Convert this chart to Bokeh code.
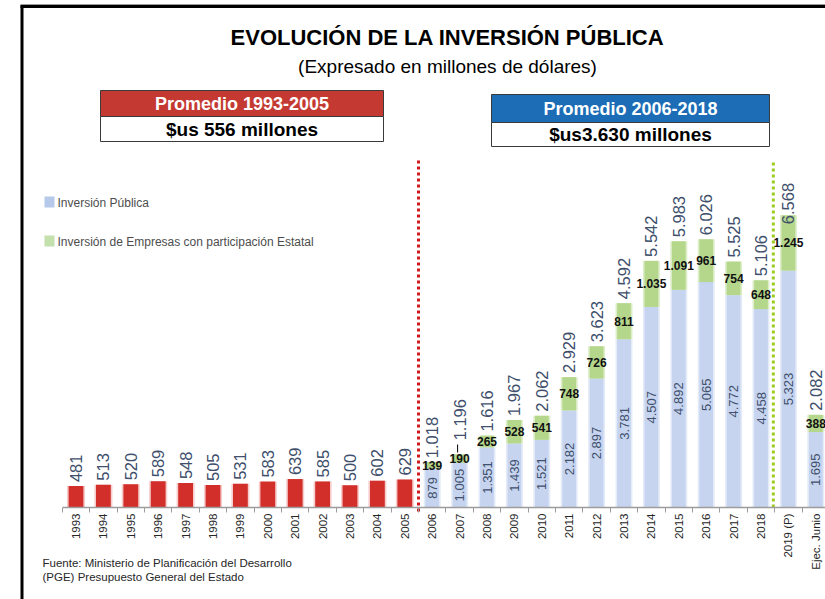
import math
from bokeh.plotting import figure
from bokeh.models import LinearAxis, FixedTicker, Range1d
from bokeh.core.properties import value
from bokeh.embed import file_html
from bokeh.resources import INLINE

# ---------------- data ----------------
years_early = ["1993", "1994", "1995", "1996", "1997", "1998", "1999",
               "2000", "2001", "2002", "2003", "2004", "2005"]
inv_early = [481, 513, 520, 589, 548, 505, 531, 583, 639, 585, 500, 602, 629]

years_late = ["2006", "2007", "2008", "2009", "2010", "2011", "2012", "2013",
              "2014", "2015", "2016", "2017", "2018", "2019 (P)", "Ejec. Junio"]
inv_publica = [879, 1005, 1351, 1439, 1521, 2182, 2897, 3781, 4507, 4892,
               5065, 4772, 4458, 5323, 1695]
inv_empresas = [139, 190, 265, 528, 541, 748, 726, 811, 1035, 1091, 961,
                754, 648, 1245, 388]
totales = [1018, 1196, 1616, 1967, 2062, 2929, 3623, 4592, 5542, 5983, 6026,
           5525, 5106, 6568, 2082]

categories = years_early + years_late

# ---------------- geometry helpers ----------------
W, H = 825, 599
PXX = 27.4          # px per category
PXY = 0.0445        # px per million
X0 = -75.5 / PXX


def X(px):
    return X0 + px / PXX


def Y(py):
    return (507 - py) / PXY


def fmt(v):
    return f"{v:,}".replace(",", ".")


SLATE = "#404f6c"
FONT = "Liberation Sans"

p = figure(width=W, height=H, output_backend="svg", toolbar_location=None,
           x_range=Range1d(X(0), X(W)), y_range=Range1d(Y(H), Y(0)),
           x_axis_location=None, y_axis_location=None, min_border=0,
           outline_line_color=None, background_fill_color="white",
           border_fill_color="white")
for g in p.grid:
    g.visible = False

idx_early = list(range(len(years_early)))
idx_late = list(range(len(years_early), len(categories)))
tops_late = [a + b for a, b in zip(inv_publica, inv_empresas)]

# ---------------- bars ----------------
p.vbar(x=idx_early, top=inv_early, width=0.66, fill_color="#f2b8b6",
       line_color=None, fill_alpha=0.7)
p.vbar(x=idx_early, top=inv_early, width=0.54, fill_color="#d22f2b",
       line_color=None)

p.vbar(x=idx_late, bottom=0, top=inv_publica, width=0.62,
       fill_color="#e3eaf8", line_color=None)
p.vbar(x=idx_late, bottom=inv_publica, top=tops_late, width=0.62,
       fill_color="#dcedc8", line_color=None)
p.vbar(x=idx_late, bottom=0, top=inv_publica, width=0.5,
       fill_color="#c6d4ef", line_color=None)
p.vbar(x=idx_late, bottom=inv_publica, top=tops_late, width=0.5,
       fill_color="#b5d78c", line_color=None)

# ---------------- axes ----------------
boundaries = [i - 0.5 for i in range(len(categories) + 1)]
tick_axis = LinearAxis(fixed_location=0,
                       ticker=FixedTicker(ticks=boundaries),
                       major_label_overrides={b: "" for b in boundaries},
                       major_tick_in=0, major_tick_out=5,
                       minor_tick_line_color=None,
                       axis_line_color="#9c9c9c", axis_line_width=1.5,
                       major_tick_line_color="#9c9c9c",
                       bounds=(-0.5, len(categories) + 0.5))
p.add_layout(tick_axis, "below")

label_axis = LinearAxis(fixed_location=0,
                        ticker=FixedTicker(ticks=list(range(len(categories)))),
                        major_label_overrides={i: c for i, c in enumerate(categories)},
                        major_label_orientation=math.pi / 2,
                        major_tick_in=0, major_tick_out=0,
                        minor_tick_line_color=None,
                        axis_line_color=None, major_tick_line_color=None,
                        major_label_standoff=6,
                        major_label_text_font=FONT,
                        major_label_text_font_size="11.5px",
                        major_label_text_color="#262626")
p.add_layout(label_axis, "below")

# ---------------- value labels ----------------
p.text(x=idx_early, y=[v + 4 / PXY for v in inv_early],
       text=[fmt(v) for v in inv_early], angle=math.pi / 2,
       text_align="left", text_baseline="middle",
       text_font=value(FONT), text_font_size="16.5px", text_color=SLATE)

label_gap_px = [4] * len(totales)
label_gap_px[1] = 14     # 2007 (leader line)
label_gap_px[13] = -9    # 2019 (P)
p.text(x=idx_late, y=[t + g / PXY for t, g in zip(tops_late, label_gap_px)],
       text=[fmt(v) for v in totales], angle=math.pi / 2,
       text_align="left", text_baseline="middle",
       text_font=value(FONT), text_font_size="16.5px", text_color=SLATE)

p.text(x=idx_late, y=[v / 2 for v in inv_publica],
       text=[fmt(v) for v in inv_publica], angle=math.pi / 2,
       text_align="center", text_baseline="middle",
       text_font=value(FONT), text_font_size="13px", text_color=SLATE)

p.text(x=idx_late, y=[a + b / 2 for a, b in zip(inv_publica, inv_empresas)],
       text=[fmt(v) for v in inv_empresas],
       text_align="center", text_baseline="middle",
       text_font=value(FONT), text_font_size="12px", text_font_style="bold",
       text_color="#111111")

# leader line for 2007
p.segment(x0=[idx_late[1] - 2 / PXX], y0=[Y(452)], x1=[idx_late[1] - 2 / PXX],
          y1=[Y(444)], line_color="black", line_width=1)

# ---------------- dividers ----------------
p.segment(x0=[12.5], y0=[Y(511)], x1=[12.5], y1=[Y(160)],
          line_color="#d0191c", line_width=3, line_dash="3 3")
p.segment(x0=[25.45], y0=[Y(507)], x1=[25.45], y1=[Y(160)],
          line_color="#9ccc1e", line_width=3, line_dash="3 3")

# ---------------- frame border ----------------
p.segment(x0=[X(21.5)], y0=[Y(5)], x1=[X(21.5)], y1=[Y(H)],
          line_color="black", line_width=3)
p.segment(x0=[X(20)], y0=[Y(6)], x1=[X(W)], y1=[Y(6)],
          line_color="black", line_width=3)
p.segment(x0=[X(20)], y0=[Y(4)], x1=[X(W)], y1=[Y(4)],
          line_color="#9a9a9a", line_width=1)

# ---------------- title ----------------
p.text(x=[X(447)], y=[Y(37)], text=["EVOLUCIÓN DE LA INVERSIÓN PÚBLICA"],
       text_align="center", text_baseline="middle",
       text_font=value(FONT), text_font_size="22px", text_font_style="bold",
       text_color="black")
p.text(x=[X(447)], y=[Y(66)], text=["(Expresado en millones de dólares)"],
       text_align="center", text_baseline="middle",
       text_font=value(FONT), text_font_size="19px", text_color="black")

# ---------------- average boxes ----------------
p.quad(left=[X(100)], right=[X(383)], top=[Y(90)], bottom=[Y(116)],
       fill_color="#c43a33", line_color="#3a3a3a", line_width=1)
p.quad(left=[X(100)], right=[X(383)], top=[Y(116)], bottom=[Y(141)],
       fill_color="white", line_color="#3a3a3a", line_width=1)
p.text(x=[X(241.5)], y=[Y(103)], text=["Promedio 1993-2005"],
       text_align="center", text_baseline="middle",
       text_font=value(FONT), text_font_size="18px", text_font_style="bold",
       text_color="white")
p.text(x=[X(241.5)], y=[Y(129)], text=["$us 556 millones"],
       text_align="center", text_baseline="middle",
       text_font=value(FONT), text_font_size="19px", text_font_style="bold",
       text_color="black")

p.quad(left=[X(491)], right=[X(769)], top=[Y(94)], bottom=[Y(122)],
       fill_color="#1c6db6", line_color="#3a3a3a", line_width=1)
p.quad(left=[X(491)], right=[X(769)], top=[Y(122)], bottom=[Y(146)],
       fill_color="white", line_color="#3a3a3a", line_width=1)
p.text(x=[X(630)], y=[Y(108)], text=["Promedio 2006-2018"],
       text_align="center", text_baseline="middle",
       text_font=value(FONT), text_font_size="18px", text_font_style="bold",
       text_color="white")
p.text(x=[X(630)], y=[Y(134)], text=["$us3.630 millones"],
       text_align="center", text_baseline="middle",
       text_font=value(FONT), text_font_size="19px", text_font_style="bold",
       text_color="black")

# ---------------- legend ----------------
p.quad(left=[X(44)], right=[X(54)], top=[Y(196)], bottom=[Y(207)],
       fill_color="#b7c9ea", line_color=None)
p.quad(left=[X(44)], right=[X(54)], top=[Y(235)], bottom=[Y(246)],
       fill_color="#c3e0ad", line_color=None)
p.text(x=[X(57), X(57)], y=[Y(202), Y(241)],
       text=["Inversión Pública", "Inversión de Empresas con participación Estatal"],
       text_align="left", text_baseline="middle",
       text_font=value(FONT), text_font_size="12px", text_color="#4d4d4d")

# ---------------- footer ----------------
p.text(x=[X(42), X(42)], y=[Y(562), Y(576)],
       text=["Fuente: Ministerio de Planificación del Desarrollo",
             "(PGE) Presupuesto General del Estado"],
       text_align="left", text_baseline="middle",
       text_font=value(FONT), text_font_size="11.5px", text_color="#262626")

open("out.html", "w").write(file_html(p, INLINE))
